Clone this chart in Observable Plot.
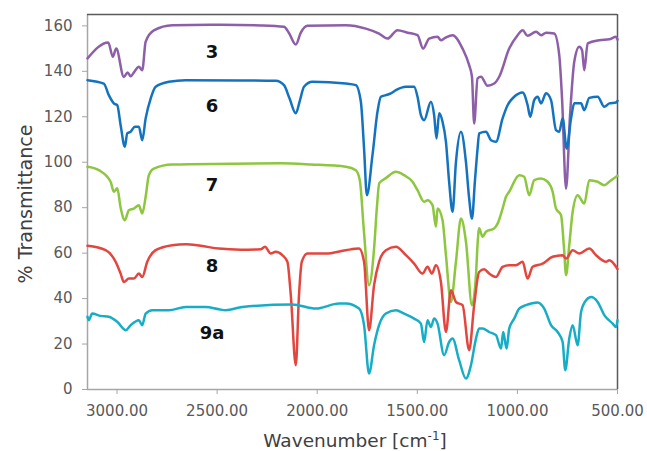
<!DOCTYPE html>
<html>
<head>
<meta charset="utf-8">
<script src="https://cdn.jsdelivr.net/npm/d3@7"></script>
<script src="https://cdn.jsdelivr.net/npm/@observablehq/plot@0.6"></script>
<style>
  html, body { margin: 0; padding: 0; background: #fff; }
  #chart svg { display: block; }
</style>
</head>
<body>
<div id="chart"></div>
<script>
// ---- Data ----
const seriesNames = ["3", "6", "7", "8", "9a"];
const seriesColors = ["#8c5fa8", "#1473bf", "#8dc63f", "#e2463f", "#18adc7"];

const wn3 = [3147.5,3044,3021,3004,2966,2947,2932,2912,2891,2874,2857,2816,2724,2482,2282,2166,2142,2107,2082,2049,1857,1757,1691,1649,1599,1549,1499,1471,1441,1399,1382,1361,1324,1274,1241,1227,1216,1199,1182,1149,1116,1091,1041,999,974,949,907,882,857,816,791,777,757,737,716,691,677,666,649,591,541,507,500];
const t3  = [145.7,152.7,146.4,150,137.5,139.5,137.8,140,142,140.5,153,158,160.3,160.5,160.2,159.6,157,151.8,157,160,160.3,158.8,156.6,154.4,158.1,157,155.9,150,154.4,155.2,153.7,154.7,155.9,150,142.7,137.6,117,136.9,137.6,133.6,134.6,137.6,150,155.9,158.1,155.6,157.4,155.9,157,156.6,147.1,128,88.4,120.7,144.2,150.8,149.3,140.5,152.3,153.7,154.1,155.2,154];

const wn6 = [3147.5,3066,3041,3016,2999,2982,2961,2949,2932,2911,2891,2874,2857,2832,2807,2741,2657,2382,2207,2166,2138,2107,2087,2066,2024,1857,1807,1782,1766,1752,1724,1699,1682,1657,1632,1607,1557,1516,1499,1482,1466,1432,1416,1404,1391,1374,1357,1341,1324,1307,1282,1257,1242,1227,1212,1199,1191,1157,1132,1107,1074,1049,1016,974,949,936,916,899,882,857,832,807,791,774,754,732,716,682,666,641,599,566,541,507,500];
const t6  = [136.1,134.6,129.5,125.9,125.1,116.3,106.8,112.7,113.4,115.6,115.6,109.7,119.3,128,133.2,135.4,136.1,136,135.8,133.9,128,121.5,127,133.2,135.4,134.6,133.9,126.6,106,85.5,103.1,122.2,128.8,129.5,130.3,131.7,133.2,133.2,128.8,120.7,118.5,126.6,120.7,110.4,121.5,117.8,109,91.4,78.2,100,113.4,100,85,75.2,92,106,112.7,113.4,109.7,109,119.3,125.1,128.8,130.7,125.1,120,127.3,128.8,125.9,130.3,127.3,114.1,113.4,119.3,106,119.3,125.9,125.9,122.9,128.3,128.8,124.4,125.9,126.3,127];

const wn7 = [3147.5,3091,3032,3016,2999,2982,2961,2941,2916,2891,2874,2857,2841,2816,2724,2432,2182,2032,1857,1807,1787,1767,1741,1716,1702,1690,1657,1607,1566,1524,1499,1466,1449,1424,1407,1399,1374,1357,1332,1307,1282,1257,1227,1207,1199,1191,1174,1157,1116,1099,1074,1057,1041,991,966,941,916,882,849,824,807,782,767,757,741,724,699,666,641,599,566,541,507,500];
const t7  = [98,96.5,91.4,87,88.5,80,74.5,78.9,79.6,81.1,77.4,84.8,94.3,97.2,99,99.3,99.5,99,98,96.5,92,70,45.9,62,80,90.8,93,95.8,94.3,91.4,87.7,82.6,83.3,81.1,71.6,79.6,74.5,59.1,38.5,56.2,75.2,65,37.1,50.3,64,70.9,67.2,69.4,70.9,73,79.6,84.8,87,94.3,93.6,85.5,92.1,92.8,91.4,87,79.6,76.7,62,50.3,63.5,78.2,85.5,81.8,92.1,91.4,89.9,91.4,93.6,94];

const wn8 = [3147.5,3057,3007,2982,2966,2941,2916,2891,2874,2849,2807,2724,2657,2582,2491,2382,2282,2261,2232,2207,2174,2149,2132,2107,2091,2077,2049,1957,1857,1791,1766,1741,1716,1691,1657,1607,1557,1516,1474,1449,1427,1407,1382,1357,1332,1307,1274,1241,1216,1191,1166,1141,1107,1074,1041,1007,974,949,924,874,824,774,757,724,691,641,607,557,541,507,500];
const t8  = [63.2,61.3,56.2,51,47.3,48.8,48.8,51,49.5,56.2,61.3,63.5,63.9,63.2,62,61.5,61.7,62.8,59.8,60.6,59.1,56.2,41.5,10.7,41.5,56.2,59.8,59.8,61.3,62,56.2,26.1,45.9,56.2,61.3,62.8,59.1,55.4,51,54,51,54.7,47.3,25.3,43.7,38.5,37.1,17.3,37.1,51.7,52.9,51,49.5,54,54.7,54.7,56.2,48.8,54,55.4,58.4,59.1,57.6,61.3,59.8,62,59.1,56.2,56.9,54,53];

const wn9a = [3147.5,3141,3124,3082,3041,2999,2957,2932,2891,2874,2857,2824,2741,2657,2557,2491,2457,2374,2124,2007,1891,1857,1791,1766,1741,1716,1691,1657,1607,1566,1516,1482,1466,1449,1432,1416,1399,1366,1341,1324,1291,1257,1232,1207,1191,1174,1141,1107,1082,1071,1054,1041,1016,991,957,899,866,832,799,774,761,741,724,699,682,657,632,599,566,524,507,500];
const t9a  = [32,30.5,33.4,32.4,32,29.8,26.1,28.3,30.5,28.3,33.4,34.9,34.9,36.3,36.3,35.3,34.9,36.3,37.4,35.6,37.8,37.8,35.6,28.3,7,19.5,28.3,33.4,34.9,33.4,31.2,29,20.9,30.5,27.5,31.2,29,15.1,20.9,22.4,12.9,4.8,10.7,22.4,26.8,26.8,25.3,23.9,18,25.3,18,26.8,31.2,35.6,37.1,38.3,35.6,28.3,25.3,20.9,8.5,22.4,28.3,19.5,34.1,39.3,40.7,38.5,32.7,29,27.5,30.5];

// Series label annotations (data units)
const labelX = [2525, 2525, 2525, 2525, 2525];
const labelY = [148.4, 124.7, 89.9, 54.3, 24.8];

// Axis ticks
const xTicks = [3000, 2500, 2000, 1500, 1000, 500];
const yTicks = [0, 20, 40, 60, 80, 100, 120, 140, 160];
const xDomain = [3147.5, 500];
const yDomain = [0, 165];

// ---- Build table ----
const allX = [wn3, wn6, wn7, wn8, wn9a];
const allY = [t3, t6, t7, t8, t9a];
const rows = [];
seriesNames.forEach((name, i) => {
  allX[i].forEach((x, j) => rows.push({series: name, x, y: allY[i][j]}));
});
const labels = seriesNames.map((name, i) => ({name, x: labelX[i], y: labelY[i]}));

const W = 647, H = 451;
const chart = Plot.plot({
  width: W,
  height: H,
  marginLeft: 87,
  marginRight: 30,
  marginTop: 14,
  marginBottom: 62,
  style: {fontFamily: "'DejaVu Sans', sans-serif", fontSize: "15px", background: "#fff"},
  x: {domain: xDomain, label: null},
  y: {domain: yDomain, label: null},
  color: {domain: seriesNames, range: seriesColors},
  marks: [
    Plot.axisY({ticks: yTicks, tickSize: 5, tickPadding: 10, stroke: "#a6a6a6", fill: "#595959", label: null, fontSize: 15}),
    Plot.axisX({ticks: xTicks, tickSize: 5, tickPadding: 11, stroke: "#a6a6a6", fill: "#595959", label: null, tickFormat: d => d.toFixed(2), fontSize: 15}),
    Plot.ruleX([xDomain[0]], {stroke: "#a6a6a6", strokeWidth: 1.5}),
    Plot.ruleY([yDomain[0]], {stroke: "#a6a6a6", strokeWidth: 1.5}),
    Plot.ruleY([yDomain[1]], {stroke: "#5a5a5a", strokeWidth: 1.5}),
    Plot.ruleX([xDomain[1]], {stroke: "#5a5a5a", strokeWidth: 1.5}),
    Plot.line(rows, {x: "x", y: "y", z: "series", stroke: "series", strokeWidth: 2.5, strokeLinejoin: "round", curve: "monotone-x"}),
    Plot.text(labels, {x: "x", y: "y", text: "name", fontWeight: "bold", fontSize: 18, fill: "#111", fontFamily: "'DejaVu Sans', sans-serif"})
  ]
});
document.getElementById("chart").appendChild(chart);

// Axis titles (real text)
const svg = d3.select(chart);
svg.append("text")
  .attr("transform", "translate(32,204) rotate(-90)")
  .attr("text-anchor", "middle")
  .attr("font-family", "'DejaVu Sans', sans-serif")
  .attr("font-size", 19)
  .attr("fill", "#404040")
  .text("% Transmittance");
const xt = svg.append("text")
  .attr("x", 355)
  .attr("y", 447)
  .attr("text-anchor", "middle")
  .attr("font-family", "'DejaVu Sans', sans-serif")
  .attr("font-size", 18.5)
  .attr("fill", "#404040");
xt.append("tspan").text("Wavenumber [cm");
xt.append("tspan").attr("dy", -7).attr("font-size", 12).text("-1");
xt.append("tspan").attr("dy", 7).text("]");
</script>
</body>
</html>
